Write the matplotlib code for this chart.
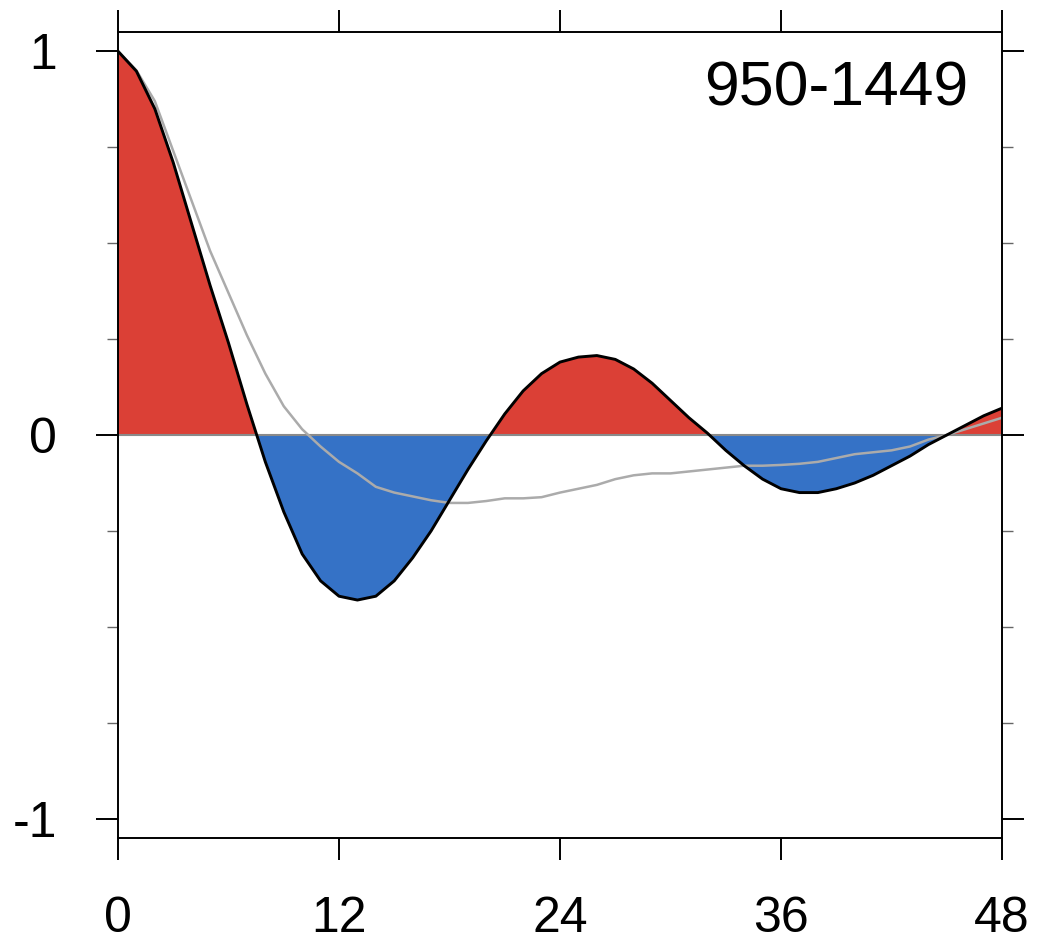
import numpy as np
import matplotlib.pyplot as plt
from matplotlib.ticker import MultipleLocator

plt.rcParams['font.family'] = ['Liberation Sans', 'DejaVu Sans']

# lag (months)
lags = np.arange(0, 49)

# autocorrelation for 950-1449 (black curve, filled)
acf = [1.00, 0.948, 0.85, 0.71, 0.55, 0.39, 0.24, 0.08, -0.07, -0.20,
       -0.31, -0.38, -0.42, -0.43, -0.42, -0.38, -0.32, -0.25, -0.17, -0.09,
       -0.015, 0.055, 0.115, 0.16, 0.19, 0.203, 0.207, 0.197, 0.172, 0.135,
       0.09, 0.045, 0.005, -0.04, -0.08, -0.115, -0.14, -0.15, -0.15, -0.14,
       -0.125, -0.105, -0.08, -0.055, -0.025, 0.0, 0.025, 0.05, 0.07]

# reference autocorrelation (gray line)
acf_ref = [1.00, 0.95, 0.87, 0.74, 0.61, 0.48, 0.37, 0.26, 0.16, 0.075,
           0.015, -0.03, -0.07, -0.10, -0.135, -0.15, -0.16, -0.17, -0.177, -0.177,
           -0.172, -0.165, -0.165, -0.162, -0.15, -0.14, -0.13, -0.115, -0.105, -0.10,
           -0.10, -0.095, -0.09, -0.085, -0.08, -0.08, -0.078, -0.075, -0.07, -0.06,
           -0.05, -0.045, -0.04, -0.03, -0.012, 0.0, 0.015, 0.03, 0.045]

label = "950-1449"
xticks = [0, 12, 24, 36, 48]
yticks = [-1, 0, 1]

acf = np.array(acf)

fig = plt.figure(figsize=(10.45, 9.47), dpi=100)
ax = fig.add_axes([0.1129, 0.1151, 0.846, 0.8511])

ax.fill_between(lags, acf, 0, where=acf >= 0, interpolate=True,
                color='#DB4036', linewidth=0)
ax.fill_between(lags, acf, 0, where=acf <= 0, interpolate=True,
                color='#3572C6', linewidth=0)
ax.axhline(0, color='#8a8a8a', linewidth=1.5)
ax.plot(lags, acf_ref, color='#ababab', linewidth=1.8)
ax.plot(lags, acf, color='black', linewidth=2.1)

ax.set_xlim(0, 48)
ax.set_ylim(-1.05, 1.05)
ax.set_xticks(xticks)
ax.set_yticks(yticks)
ax.set_xticklabels([str(t) for t in xticks])
ax.set_yticklabels([str(t) for t in yticks])
ax.yaxis.set_minor_locator(MultipleLocator(0.25))

ax.tick_params(axis='both', which='major', direction='out', length=16,
               width=1.4, labelsize=36, pad=26, top=True, right=True)
ax.tick_params(axis='y', which='minor', direction='out', length=8,
               width=1.0, color='#666666', right=True)
ax.tick_params(axis='y', which='major', pad=28)
for s in ax.spines.values():
    s.set_linewidth(1.4)

ax.text(0.9615, 0.9094, label, transform=ax.transAxes, ha='right',
        va='baseline', fontsize=45)

fig.savefig('out.png', dpi=100)
